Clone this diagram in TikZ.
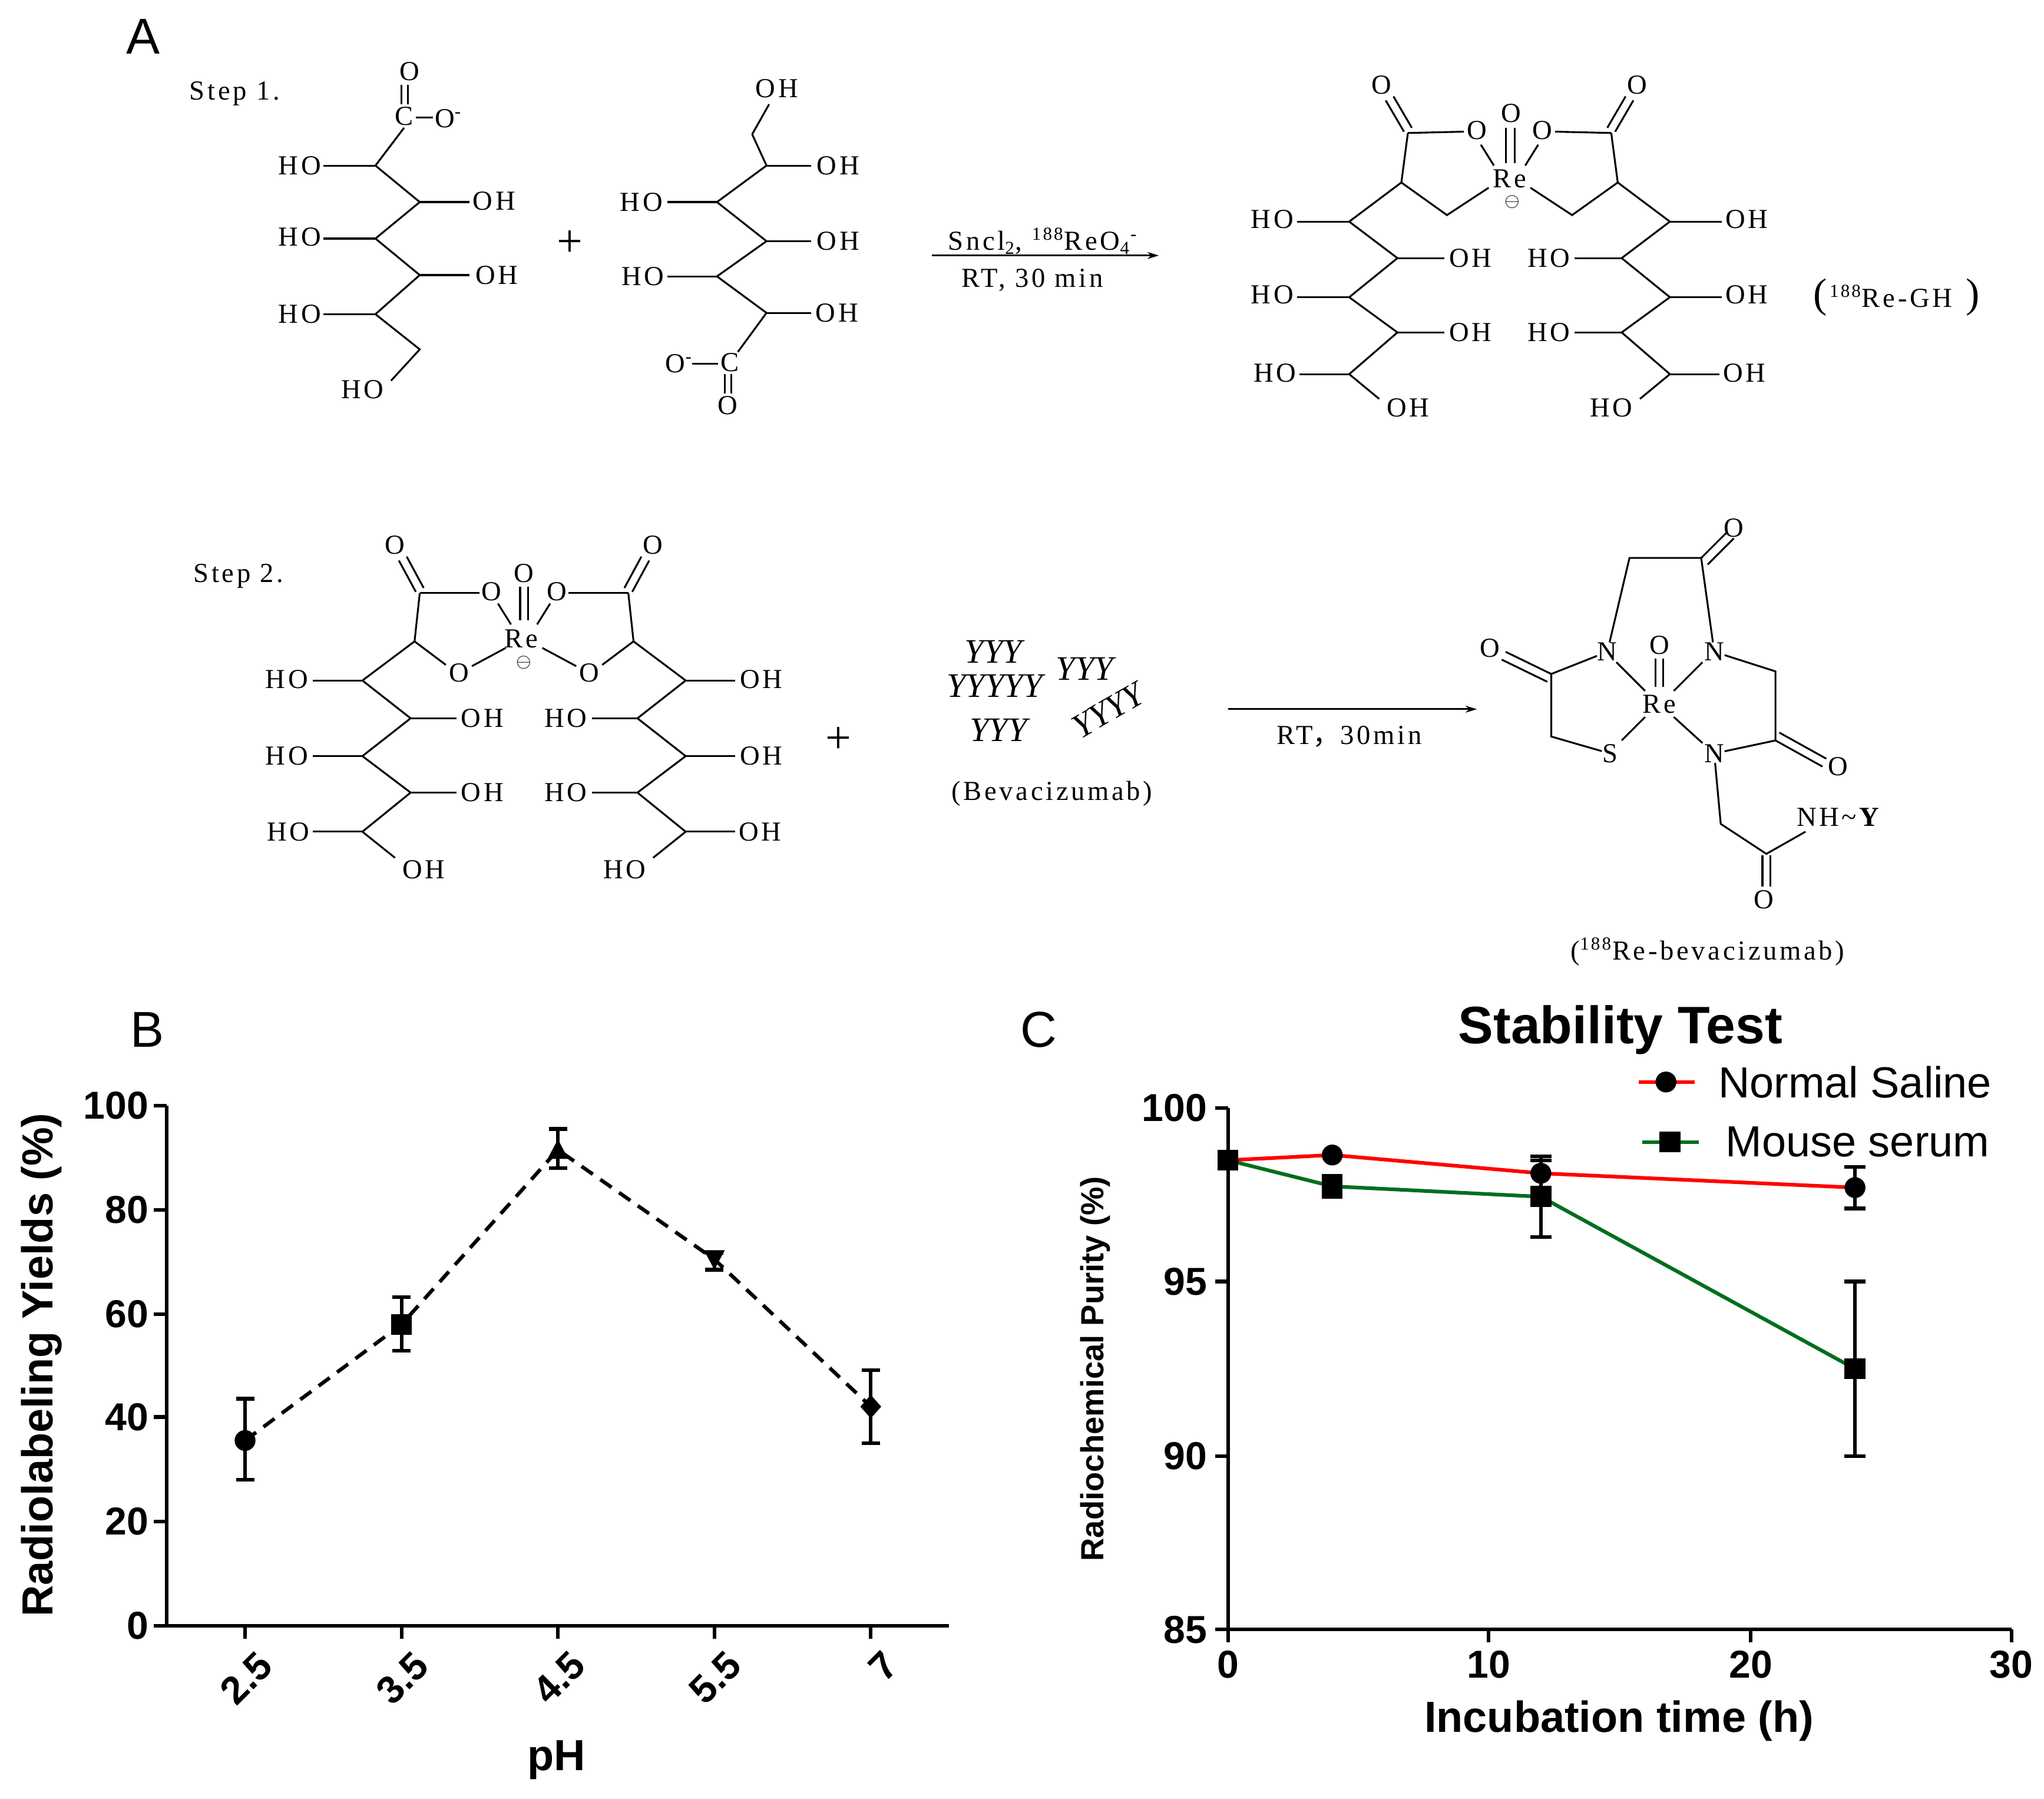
\documentclass[tikz,border=0pt]{standalone}
\usepackage{fontspec}
\setmainfont{Liberation Serif}
\setsansfont{Liberation Sans}
\newfontfamily\chemfam{Liberation Serif}[LetterSpace=10]
\newfontfamily\cjk{Noto Sans CJK SC}
\usetikzlibrary{arrows.meta}
\tikzset{
 bond/.style={line width=0.8pt},
 ch/.style={inner sep=0pt,font=\chemfam\fontsize{12}{14}\selectfont},
 tk/.style={inner sep=1pt,font=\sffamily\bfseries\fontsize{17}{20}\selectfont},
 axl/.style={inner sep=0pt,font=\sffamily\bfseries\fontsize{19}{22}\selectfont},
 pl/.style={inner sep=0pt,font=\sffamily\fontsize{22}{26}\selectfont},
 ax/.style={line width=1.6pt},
 eb/.style={line width=1.6pt},
}
\newcommand\halfA[3]{%
 \draw[bond] ({1158+#1*(-78)},102)--({1158+#1*(-83)},140)--({1158+#1*(-123)},170)--({1158+#1*(-86)},198)--({1158+#1*(-123)},228)--({1158+#1*(-86)},255)--({1158+#1*(-123)},287)--({1158+#1*(-100)},306);
 \draw[bond] ({1158+#1*(-83)},140)--({1158+#1*(-48)},165)--({1158+#1*(-16)},144);
 \draw[bond] ({1158+#1*(-78)},102)--({1158+#1*(-35)},101);
 \draw[bond] ({1158+#1*(-22)},111)--({1158+#1*(-12)},127);
 \draw[bond] ({1158+#1*(-81)},101)--({1158+#1*(-95)},77);
 \draw[bond] ({1158+#1*(-75)},98)--({1158+#1*(-89)},74);
 \node[ch] at ({1158+#1*(-98)},65) {O};
 \node[ch] at ({1158+#1*(-25)},100) {O};
 \draw[bond] ({1158+#1*(-123)},170)--({1158+#1*(-163)},170);
 \draw[bond] ({1158+#1*(-123)},228)--({1158+#1*(-163)},228);
 \draw[bond] ({1158+#1*(-123)},287)--({1158+#1*(-161)},287);
 \draw[bond] ({1158+#1*(-86)},198)--({1158+#1*(-50)},198);
 \draw[bond] ({1158+#1*(-86)},255)--({1158+#1*(-50)},255);
 \node[ch] at ({1158+#1*(-182)},168) {#2};
 \node[ch] at ({1158+#1*(-182)},226) {#2};
 \node[ch] at ({1158+#1*(-180)},286) {#2};
 \node[ch] at ({1158+#1*(-30)},198) {#3};
 \node[ch] at ({1158+#1*(-30)},255) {#3};
 \node[ch] at ({1158+#1*(-78)},313) {#3};
}
\newcommand\halfB[3]{%
 \draw[bond] ({402+#1*(-80)},455)--({402+#1*(-84)},492)--({402+#1*(-124)},522)--({402+#1*(-87)},551)--({402+#1*(-124)},580)--({402+#1*(-87)},608)--({402+#1*(-124)},638)--({402+#1*(-99)},658);
 \draw[bond] ({402+#1*(-84)},492)--({402+#1*(-60)},510);
 \draw[bond] ({402+#1*(-40)},511)--({402+#1*(-14)},497);
 \draw[bond] ({402+#1*(-80)},455)--({402+#1*(-34)},455);
 \draw[bond] ({402+#1*(-20)},463)--({402+#1*(-10)},479);
 \draw[bond] ({402+#1*(-83)},454)--({402+#1*(-96)},430);
 \draw[bond] ({402+#1*(-77)},451)--({402+#1*(-90)},427);
 \node[ch] at ({402+#1*(-99)},418) {O};
 \node[ch] at ({402+#1*(-25)},454) {O};
 \node[ch] at ({402+#1*(-50)},516) {O};
 \draw[bond] ({402+#1*(-124)},522)--({402+#1*(-162)},522);
 \draw[bond] ({402+#1*(-124)},580)--({402+#1*(-162)},580);
 \draw[bond] ({402+#1*(-124)},638)--({402+#1*(-162)},638);
 \draw[bond] ({402+#1*(-87)},551)--({402+#1*(-52)},551);
 \draw[bond] ({402+#1*(-87)},608)--({402+#1*(-52)},608);
 \node[ch] at ({402+#1*(-182)},521) {#2};
 \node[ch] at ({402+#1*(-182)},580) {#2};
 \node[ch] at ({402+#1*(-181)},638) {#2};
 \node[ch] at ({402+#1*(-32)},551) {#3};
 \node[ch] at ({402+#1*(-32)},608) {#3};
 \node[ch] at ({402+#1*(-77)},667) {#3};
}
\begin{document}
\begin{tikzpicture}[x=0.02cm,y=-0.02cm]
\useasboundingbox[fill=white] (0,0) rectangle (1568,1380);
\node[pl] (lA) at (110,28) {A};
\node[pl] (lB) at (113,790) {B};
\node[pl] (lC) at (797,790) {C};
% ---------- Step 1
\node[ch] (s1) at (180,72) {Step 1.};
\draw[bond] (310,98)--(288,127)--(322,155)--(288,183)--(322,211)--(288,241)--(322,268)--(300,292);
\draw[bond] (288,127)--(248,127) (288,183)--(248,183) (288,241)--(248,241);
\draw[bond] (322,155)--(360,155) (322,211)--(360,211);
\node[ch] at (230,127) {HO}; \node[ch] at (230,182) {HO}; \node[ch] at (230,241) {HO};
\node[ch] at (379,154) {OH}; \node[ch] at (381,211) {OH}; \node[ch] at (278,299) {HO};
\node[ch] at (310,89) {C}; \draw[bond] (319,90)--(332,90); \node[ch] at (344,91) {O\textsuperscript{-}};
\draw[bond] (308,65)--(308,80) (313,65)--(313,80); \node[ch] at (314,55) {O};
\node[inner sep=0pt,font=\fontsize{20}{22}\selectfont] at (437,187) {+};
\draw[bond] (577,103)--(588,127)--(550,155)--(588,185)--(550,212)--(588,240)--(566,270);
\draw[bond] (577,103)--(590,80);
\draw[bond] (588,127)--(622,127) (588,185)--(622,185) (588,240)--(622,240);
\draw[bond] (550,155)--(512,155) (550,212)--(512,212);
\node[ch] at (596,68) {OH}; \node[ch] at (643,127) {OH}; \node[ch] at (643,185) {OH}; \node[ch] at (642,240) {OH};
\node[ch] at (492,155) {HO}; \node[ch] at (493,212) {HO};
\node[ch] at (560,278) {C}; \draw[bond] (531,279)--(551,279); \node[ch] at (521,279) {O\textsuperscript{-}};
\draw[bond] (556,287)--(556,302) (561,287)--(561,302); \node[ch] at (558,311) {O};
\coordinate (a1s) at (715,196); \coordinate (a1e) at (889,196);
\draw[bond,-{Stealth[length=5pt,width=3pt]}] (a1s)--(a1e);
\node[ch] at (800,185) {Sncl\textsubscript{2}, \textsuperscript{188}ReO\textsubscript{4}\textsuperscript{-}};
\node[ch] at (792,215) {RT, 30 min};
% product 1
\halfA{1}{HO}{OH}
\halfA{-1}{OH}{HO}
\node[ch] at (1158,137) {Re};
\node[inner sep=0pt,font=\fontsize{8}{9}\selectfont] at (1160,155) {$\ominus$};
\draw[bond] (1155,98)--(1155,125) (1162,98)--(1162,125);
\node[ch] at (1159,87) {O};
\node[ch] at (1455,228) {\fontsize{18}{20}\selectfont(\hspace{1pt}{\fontsize{12}{14}\selectfont\textsuperscript{188}Re-GH}\hspace{6pt})};
% ---------- Step 2
\node[ch] (s2) at (183,442) {Step 2.};
\halfB{1}{HO}{OH}
\halfB{-1}{OH}{HO}
\node[ch] at (400,490) {Re};
\node[inner sep=0pt,font=\fontsize{8}{9}\selectfont] at (402,508) {$\ominus$};
\draw[bond] (399,450)--(399,476) (405,450)--(405,476);
\node[ch] at (402,440) {O};
\node[inner sep=0pt,font=\fontsize{20}{22}\selectfont] at (643,568) {+};
\begin{scope}[every node/.style={inner sep=0pt,font=\itshape\fontsize{15}{16}\selectfont}]
\node at (762,500) {YYY}; \node at (832,513) {YYY};
\node at (763,526) {YYYYY}; \node at (766,560) {YYY};
\node[rotate=30] at (850,545) {YYYY};
\end{scope}
\node[ch] at (807,609) {(Bevacizumab)};
\coordinate (a2s) at (942,544); \coordinate (a2e) at (1133,544);
\draw[bond,-{Stealth[length=5pt,width=3pt]}] (a2s)--(a2e);
\node[ch] at (1035,565) {RT{\cjk ，}30min};
% product 2
\node[ch] (Re2) at (1273,540) {Re};
\node[ch] (N1) at (1233,500) {N};
\node[ch] (N2) at (1315,500) {N};
\node[ch] (N3) at (1315,578) {N};
\node[ch] (S) at (1235,578) {S};
\node[ch] (Ot) at (1273,495) {O};
\draw[bond] (1270,505)--(1270,527) (1276,505)--(1276,527);
\draw[bond] (1240,508)--(1262,530) (1306,508)--(1284,530) (1284,550)--(1306,570) (1262,550)--(1244,568);
\draw[bond] (N1)--(1190,517)--(1190,565)--(S);
\draw[bond] (1190,517)--(1155,500) (1187,523)--(1152,506); \node[ch] at (1143,497) {O};
\draw[bond] (N1)--(1250,428)--(1305,428)--(N2);
\draw[bond] (1305,428)--(1325,408) (1310,433)--(1330,413); \node[ch] at (1330,405) {O};
\draw[bond] (N2)--(1362,515)--(1362,568)--(N3);
\draw[bond] (1362,568)--(1398,588) (1365,562)--(1401,582); \node[ch] at (1410,588) {O};
\draw[bond] (N3)--(1320,632)--(1355,655)--(1385,638);
\draw[bond] (1352,656)--(1352,680) (1358,656)--(1358,680); \node[ch] at (1353,690) {O};
\node[ch] at (1411,627) {NH\textasciitilde\textbf{Y}};
\node[ch] at (1310,730) {(\textsuperscript{188}Re-bevacizumab)};
% ---------- Chart B
\draw[ax] (128,848)--(128,1247)--(728,1247);
\foreach \v/\yy in {0/1247,20/1167,40/1087,60/1008,80/928,100/848}{
 \draw[ax] (128,\yy)--(118,\yy); \node[tk,anchor=east] at (116,\yy) {\v};}
\foreach \xx/\l in {188/2.5,308/3.5,428/4.5,548/5.5,668/7}{
 \draw[ax] (\xx,1247)--(\xx,1257);
 \node[tk,anchor=north east,rotate=45] at (\xx+8,1262) {\l};}
\node[axl] at (427,1350) {pH};
\node[axl,rotate=90] at (32,1047) {Radiolabeling Yields (\%)};
\draw[line width=1.6pt,dash pattern=on 6pt off 4pt] (188,1105)--(308,1016)--(428,882)--(548,966)--(668,1079);
\foreach \xx/\lo/\hi in {188/1135/1073,308/1036/995,428/896/866,548/974/961,668/1107/1051}{
 \draw[eb] (\xx,\lo)--(\xx,\hi) (\xx-7,\lo)--(\xx+7,\lo) (\xx-7,\hi)--(\xx+7,\hi);}
\fill (188,1105) circle[radius=8];
\fill (300,1008) rectangle (316,1024);
\fill (420,889)--(436,889)--(428,874)--cycle;
\fill (540,959)--(556,959)--(548,974)--cycle;
\fill (668,1070)--(676,1079)--(668,1088)--(660,1079)--cycle;
% ---------- Chart C
\node[inner sep=0pt,font=\sffamily\bfseries\fontsize{23}{26}\selectfont] at (1243,790) {Stability Test};
\draw[ax] (942,850)--(942,1250)--(1543,1250);
\foreach \v/\yy in {85/1250,90/1117,95/983,100/850}{
 \draw[ax] (942,\yy)--(932,\yy); \node[tk,anchor=east] at (928,\yy) {\v};}
\foreach \v/\xx in {0/942,10/1142,20/1343,30/1543}{
 \draw[ax] (\xx,1250)--(\xx,1260); \node[tk,anchor=north] at (\xx,1264) {\v};}
\node[axl] at (1242,1320) {Incubation time (h)};
\node[inner sep=0pt,font=\sffamily\bfseries\fontsize{14}{16}\selectfont,rotate=90] at (840,1050) {Radiochemical Purity (\%)};
\definecolor{sred}{RGB}{255,0,0}
\definecolor{sgreen}{RGB}{0,110,30}
\draw[sred,line width=1.6pt] (942,890)--(1022,886)--(1182,900)--(1423,911);
\draw[sgreen,line width=1.6pt] (942,890)--(1022,910)--(1182,918)--(1423,1050);
\foreach \xx/\lo/\hi in {1182/887/911,1423/895/927,1022/902/918,1182/890/949,1423/983/1117}{
 \draw[eb] (\xx,\lo)--(\xx,\hi) (\xx-8,\lo)--(\xx+8,\lo) (\xx-8,\hi)--(\xx+8,\hi);}
\foreach \xx/\yy in {942/890,1022/886,1182/900,1423/911}{\fill (\xx,\yy) circle[radius=8];}
\foreach \xx/\yy in {942/890,1022/910,1182/918,1423/1050}{\fill (\xx-8,\yy-8) rectangle (\xx+8,\yy+8);}
\draw[sred,line width=1.6pt] (1257,830)--(1300,830); \fill (1278,830) circle[radius=8];
\draw[sgreen,line width=1.6pt] (1260,876)--(1303,876); \fill (1273,868) rectangle (1289,884);
\node[inner sep=0pt,font=\sffamily\fontsize{19}{22}\selectfont] at (1423,830) {Normal Saline};
\node[inner sep=0pt,font=\sffamily\fontsize{19}{22}\selectfont] at (1425,876) {Mouse serum};
\end{tikzpicture}
\end{document}
